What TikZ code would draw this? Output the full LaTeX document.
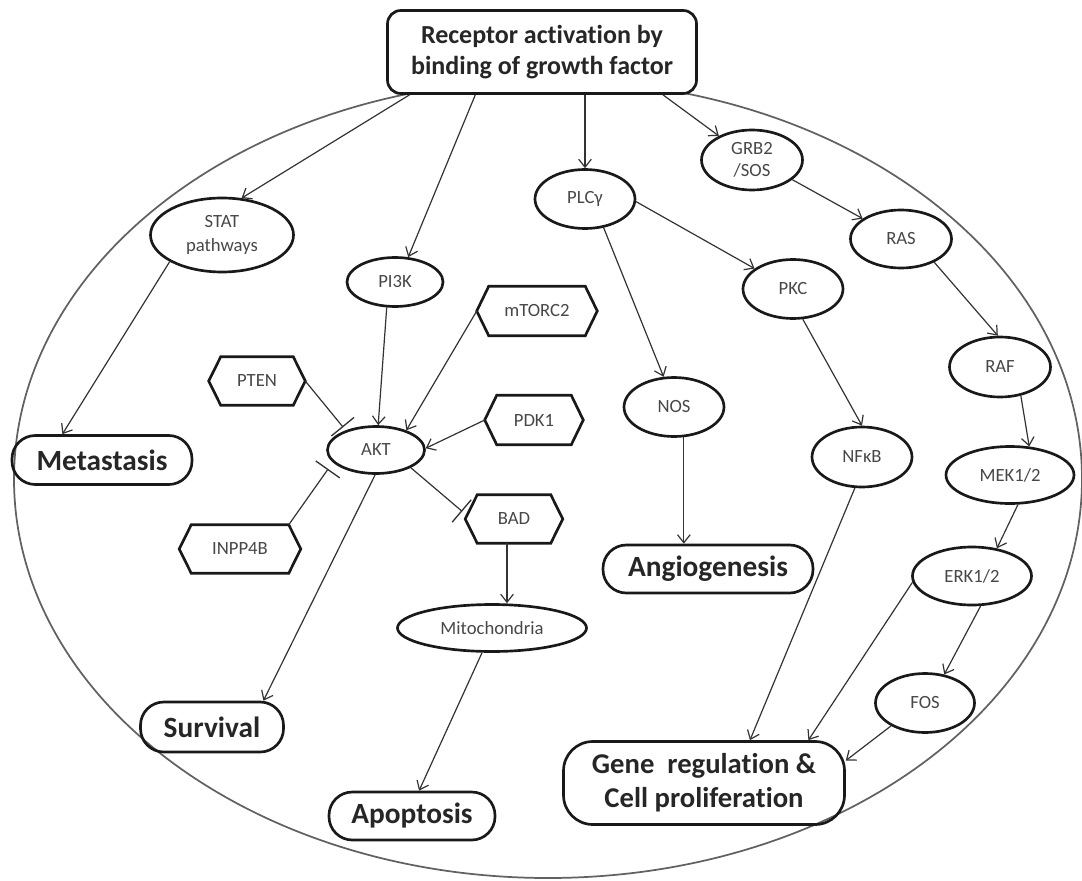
\documentclass[tikz,border=0pt]{standalone}
\usepackage{fontspec}
\setmainfont{Carlito}[Ligatures=NoCommon]
\usetikzlibrary{arrows.meta,calc,shapes.geometric}
\newcommand{\hexdraw}[1]{\draw[hexline] (#1.west) -- ([xshift=9pt]#1.north west) -- ([xshift=-9pt]#1.north east) -- (#1.east) -- ([xshift=-9pt]#1.south east) -- ([xshift=9pt]#1.south west) -- cycle;}
\begin{document}
\begin{tikzpicture}[x=0.75pt,y=-0.75pt,
  base/.style={draw=black!90, line width=2pt, inner sep=0pt, align=center},
  ell/.style 2 args={base, ellipse, minimum width=#1*0.75pt, minimum height=#2*0.75pt, text=black!72, font=\fontsize{14}{16.5}\selectfont},
  hexn/.style 2 args={inner sep=0pt, align=center, minimum width=#1*0.75pt, minimum height=#2*0.75pt, text=black!72, font=\fontsize{14}{16.5}\selectfont},
  hexline/.style={draw=black!90, line width=2pt, line join=miter},
  outc/.style 2 args={base, rectangle, rounded corners=17.5pt, minimum width=#1*0.75pt, minimum height=#2*0.75pt, text=black!85, font=\bfseries\fontsize{22}{25.5}\selectfont},
  arr/.style={-{Straight Barb[length=6pt,width=9.5pt,line width=0.9pt]}, line width=0.9pt, draw=black!80},
  inh/.style={-{Bar[width=22pt,line width=1pt]}, line width=0.9pt, draw=black!80},
  outer/.style={draw=black!62, line width=1.3pt}
]
\useasboundingbox (0,0) rectangle (1082,881);
\draw[outer] (548,479) ellipse [x radius=534, y radius=399];

% top box
\node[base, rectangle, rounded corners=10pt, fill=white, minimum width=309*0.75pt, minimum height=83*0.75pt, text=black!85, font=\bfseries\fontsize{19.5}{23}\selectfont] (rec) at (542,52) {Receptor activation by\\binding of growth factor};

% ellipses
\node[ell={143}{74}, font=\fontsize{14}{18}\selectfont] (stat) at (222,235) {STAT\\pathways};
\node[ell={96}{49}] (pi3k) at (395,282) {PI3K};
\node[ell={100}{59}] (plc) at (585,199) {PLCγ};
\node[ell={101}{60}] (grb) at (752,160) {GRB2\\/SOS};
\node[ell={101}{58}] (ras) at (901,239) {RAS};
\node[ell={100}{59}] (pkc) at (793,289) {PKC};
\node[ell={101}{60}] (raf) at (1000,367) {RAF};
\node[ell={100}{59}] (nos) at (674,407) {NOS};
\node[ell={100}{60}] (nfkb) at (862,457) {NFκB};
\node[ell={128}{57}] (mek) at (1010,475) {MEK1/2};
\node[ell={119}{58}] (erk) at (972,576) {ERK1/2};
\node[ell={99}{59}] (fos) at (925,703) {FOS};
\node[ell={97}{47}] (akt) at (376,450) {AKT};
\node[ell={189}{47}] (mito) at (492,628) {Mitochondria};

% hexagons
\node[hexn={96}{48}] (pten) at (257,381) {PTEN};
\node[hexn={121}{48}] (inpp) at (240,549) {INPP4B};
\node[hexn={120}{49}] (mtorc) at (537,311) {mTORC2};
\node[hexn={98}{49}] (pdk) at (534,420) {PDK1};
\node[hexn={97}{48}] (bad) at (514,519) {BAD};
\hexdraw{pten}
\hexdraw{inpp}
\hexdraw{mtorc}
\hexdraw{pdk}
\hexdraw{bad}

% outcomes
\node[outc={180}{49}] (meta) at (102,460) {Metastasis};
\node[outc={210}{48}] (angio) at (708,569) {Angiogenesis};
\node[outc={143}{50}] (surv) at (212,727) {Survival};
\node[outc={166}{48}] (apop) at (412,816) {Apoptosis};
\node[outc={281}{83}, rounded corners=22pt, font=\bfseries\fontsize{21.5}{25.5}\selectfont] (gene) at (704,783) {Gene~~regulation \&\\Cell proliferation};

% arrows
\draw[arr] ($(rec.south west)!0.075!(rec.south east)$) -- (stat.62);
\draw[arr] ($(rec.south west)!0.286!(rec.south east)$) -- (pi3k.62);
\draw[arr] (plc.north |- rec.south) -- (plc.north);
\draw[arr] ($(rec.south west)!0.888!(rec.south east)$) -- (grb.144);
\draw[arr] (grb.-26) -- (ras.152);
\draw[arr] (plc.-3) -- (pkc.152);
\draw[arr] (plc.-57) -- (nos.109);
\draw[arr] (pkc.-72) -- (nfkb.north);
\draw[arr] (ras.-35) -- (raf.94);
\draw[arr] (raf.-54) -- (mek.56);
\draw[arr] (mek.-75) -- (erk.48);
\draw[arr] (erk.-74) -- (fos.56);
\draw[arr] (erk.186) -- ($(gene.north west)!0.868!(gene.north east)$);
\draw[arr] (fos.214) -- (gene.9);
\draw[arr] (nfkb.-103) -- ($(gene.north west)!0.662!(gene.north east)$);
\draw[arr] (nos.-72) -- (nos.-72 |- angio.north);
\draw[arr] (stat.207) -- ($(meta.north west)!0.283!(meta.north east)$);
\draw[arr] (pi3k.-108) -- (akt.85);
\draw[arr] (mtorc.west) -- (akt.33);
\draw[arr] (pdk.west) -- (akt.2);
\draw[arr] (akt.-92) -- ($(surv.north west)!0.853!(surv.north east)$);
\coordinate (badout) at ($(bad.south)+(-7,0)$);
\draw[arr] (badout) -- (badout |- mito.north);
\draw[arr] (mito.-112) -- ($(apop.north west)!0.542!(apop.north east)$);

% inhibitions
\draw[inh, shorten >=3pt] (pten.east) -- (akt.147);
\draw[inh, shorten >=6pt] ($(inpp.north east)+(-12,0)$) -- (akt.196);
\draw[inh, shorten >=3pt] (akt.-27) -- ($(bad.west)+(0,-5)$);
\end{tikzpicture}
\end{document}
